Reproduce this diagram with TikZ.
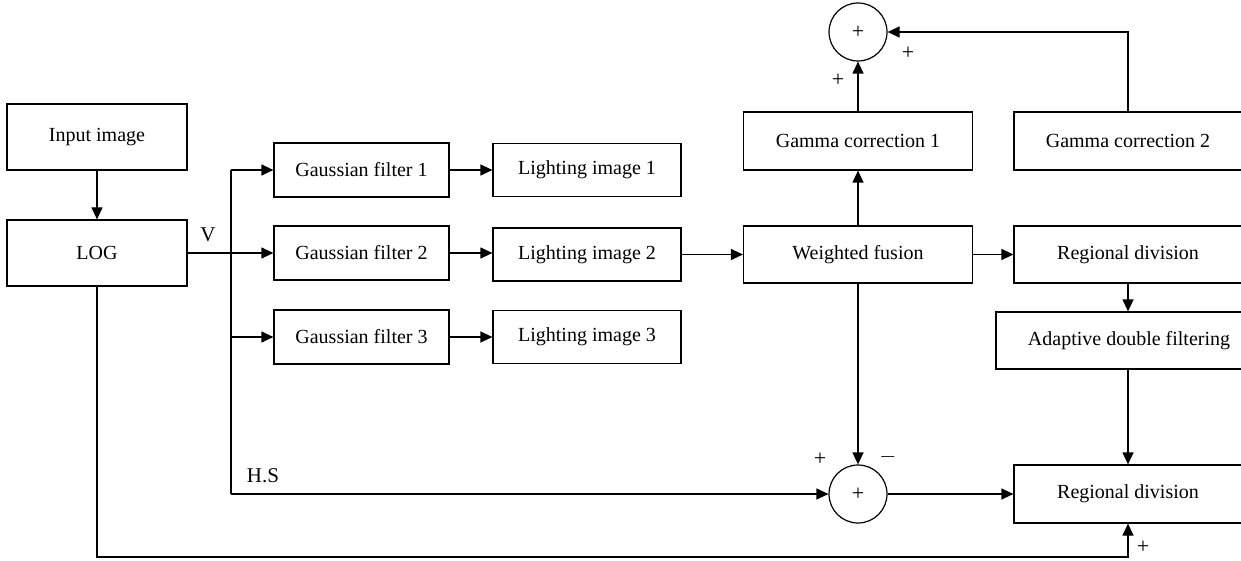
\documentclass[tikz,border=0pt]{standalone}
\usepackage{fontspec}
\setmainfont{Liberation Serif}
\usetikzlibrary{arrows.meta,positioning}

\begin{document}
\begin{tikzpicture}[x=0.5pt, y=-0.5pt, line width=0.6pt,
    >={Triangle[length=6pt, width=5.5pt]},
    block/.style={draw, line width=0.6pt, inner sep=0pt, font=\fontsize{10}{12}\selectfont},
    sumnode/.style={draw, circle, line width=0.6pt, minimum size=29pt, inner sep=0pt, font=\fontsize{11}{12}\selectfont},
    sign/.style={inner sep=0pt, font=\fontsize{11}{12}\selectfont}]

    \useasboundingbox (0, 0) rectangle (1241, 561);
    \clip (0, 0) rectangle (1241, 561);

    % left column
    \node [block, minimum width=90pt, minimum height=33pt] (input) at (97, 137) {Input image};
    \node [block, minimum width=90pt, minimum height=33pt] (log) at (97, 253) {LOG};

    % filter bank
    \node [block, minimum width=87.5pt, minimum height=27pt] (gauss1) at (361.5, 170) {Gaussian filter 1};
    \node [block, minimum width=87.5pt, minimum height=27pt] (gauss2) at (361.5, 253) {Gaussian filter 2};
    \node [block, minimum width=87.5pt, minimum height=27pt] (gauss3) at (361.5, 337) {Gaussian filter 3};
    \node [block, minimum width=94pt, minimum height=26.5pt] (light1) at (587, 170) {Lighting image 1};
    \node [block, minimum width=94pt, minimum height=26.5pt] (light2) at (587, 254.5) {Lighting image 2};
    \node [block, minimum width=94pt, minimum height=26.5pt] (light3) at (587, 337) {Lighting image 3};

    % fusion and correction
    \node [block, minimum width=114.5pt, minimum height=28.5pt] (fusion) at (858, 254.5) {Weighted fusion};
    \node [block, minimum width=114.5pt, minimum height=29pt] (gamma1) at (858, 141) {Gamma correction 1};
    \node [block, minimum width=114pt, minimum height=29pt] (gamma2) at (1128, 141) {Gamma correction 2};
    \node [block, minimum width=114pt, minimum height=28.5pt] (regdiv1) at (1128, 254.5) {Regional division};
    \node [block, minimum width=133pt, minimum height=28.5pt] (adaptive) at (1129, 340.5) {Adaptive double filtering};
    \node [block, minimum width=114pt, minimum height=29pt] (regdiv2) at (1128, 494) {Regional division};

    \node [sumnode] (sumtop) at (858, 32) {+};
    \node [sumnode] (sumlow) at (858, 494) {+};

    \coordinate (bustop) at (231, 170);
    \coordinate (busbot) at (231, 494);
    \coordinate (corner) at (97, 557);

    % connectors
    \draw [->] (input) -- (log);
    \draw [->] (log.east) -- (gauss2.west);
    \draw (bustop) -- (busbot);
    \draw [->] (bustop) -- (gauss1.west);
    \draw [->] (bustop |- gauss3.west) -- (gauss3.west);
    \foreach \i in {1,2,3}
        \draw [->] (gauss\i.east) -- (gauss\i.east -| light\i.west);
    \draw [->] (light2) -- (fusion);
    \draw [->] (fusion) -- (gamma1);
    \draw [->] (gamma1) -- (sumtop);
    \draw [->] (gamma2.north) |- (sumtop.east);
    \draw [->] (fusion) -- (regdiv1);
    \draw [->] (regdiv1.south) -- (regdiv1.south |- adaptive.north);
    \draw [->] (adaptive.south -| regdiv2.north) -- (regdiv2.north);
    \draw [->] (fusion) -- (sumlow);
    \draw [->] (busbot) -- (sumlow.west);
    \draw [->] (sumlow) -- (regdiv2);
    \draw [->] (log.south) -- (corner) -| (regdiv2.south);

    % labels
    \node [sign, font=\fontsize{10.5}{12}\selectfont] (vlabel) at (208, 235) {V};
    \node [sign, font=\fontsize{10.5}{12}\selectfont] (hslabel) at (263, 476) {H.S};
    \node [sign] (plus1) at (838, 80) {+};
    \node [sign] (plus2) at (908, 53) {+};
    \node [sign] (plus3) at (820, 459) {+};
    \node [sign] (minus1) at (888, 457) {\(-\)};
    \node [sign] (plus4) at (1143, 547) {+};

\end{tikzpicture}
\end{document}
